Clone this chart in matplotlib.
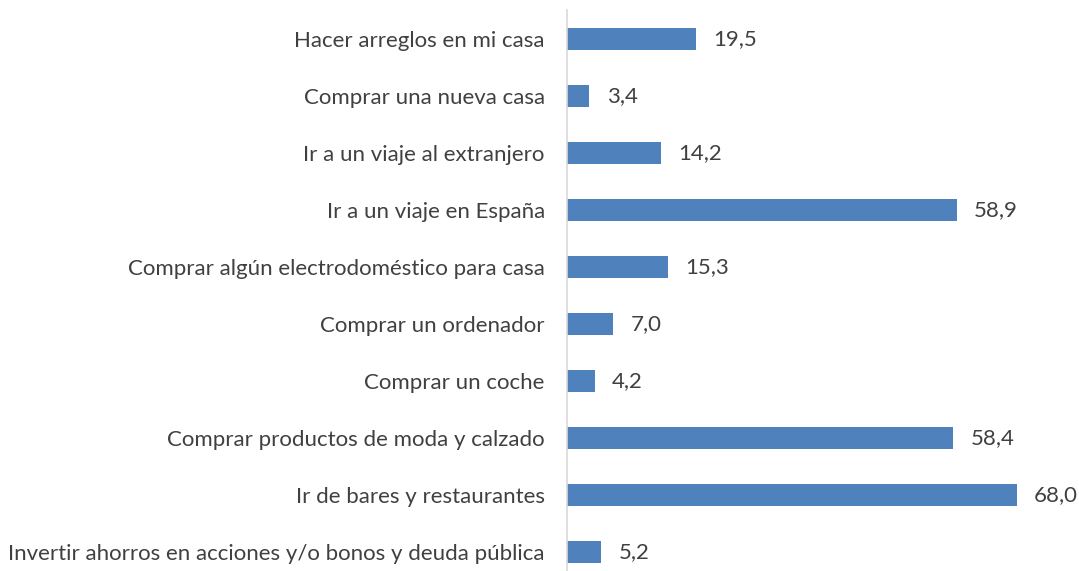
import matplotlib
matplotlib.use("Agg")
import matplotlib.pyplot as plt

categories = [
    "Hacer arreglos en mi casa",
    "Comprar una nueva casa",
    "Ir a un viaje al extranjero",
    "Ir a un viaje en España",
    "Comprar algún electrodoméstico para casa",
    "Comprar un ordenador",
    "Comprar un coche",
    "Comprar productos de moda y calzado",
    "Ir de bares y restaurantes",
    "Invertir ahorros en acciones y/o bonos y deuda pública",
]
values = [19.5, 3.4, 14.2, 58.9, 15.3, 7.0, 4.2, 58.4, 68.0, 5.2]

text_col = "#404040"
plt.rcParams['font.family'] = ['Lato', 'DejaVu Sans']

fig = plt.figure(figsize=(10.79, 5.71), dpi=100)
ax = fig.add_axes([567/1079, 0, 463/1079, 1 - 10/571])

pos = list(range(len(categories)))
ax.barh(pos, values, height=0.39, color="#4F81BD")
for p, v in zip(pos, values):
    ax.text(v + 2.6, p, f"{v:.1f}".replace(".", ","), va="center", ha="left",
            fontsize=16, color=text_col)

ax.set_xlim(0, 70)
ax.set_ylim(9 + 19/57, -29/57)
ax.set_yticks(pos)
ax.set_yticklabels(categories, fontsize=16, color=text_col)
ax.tick_params(axis="y", length=0, pad=16)
ax.set_xticks([])
for s in ["top", "right", "bottom"]:
    ax.spines[s].set_visible(False)
ax.spines["left"].set_color("#D9D9D9")
ax.spines["left"].set_linewidth(1.2)

fig.savefig("out.png", dpi=100)
